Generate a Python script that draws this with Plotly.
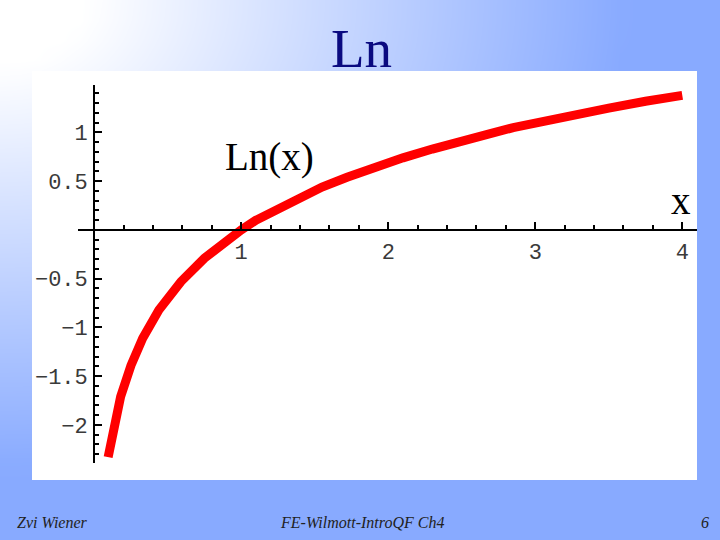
import numpy as np
import plotly.graph_objects as go

# ---- data ----
x_vals = [0.095, 0.13, 0.18, 0.25, 0.33, 0.44, 0.59, 0.75, 0.9, 1.0, 1.1, 1.25, 1.4, 1.55,
          1.72, 1.9, 2.1, 2.3, 2.5, 2.7, 2.85, 3.0, 3.25, 3.5, 3.75, 3.9, 4.0]
y_vals = [-2.33, -2.02, -1.71, -1.39, -1.11, -0.82, -0.53, -0.29, -0.11, 0.0, 0.10, 0.22, 0.34, 0.44,
          0.54, 0.64, 0.74, 0.83, 0.92, 0.99, 1.05, 1.10, 1.18, 1.25, 1.32, 1.36, 1.38]
x_ticks = [1, 2, 3, 4]
x_tick_text = ["1", "2", "3", "4"]
y_ticks = [-2, -1.5, -1, -0.5, 0.5, 1]
y_tick_text = ["\u22122", "\u22121.5", "\u22121", "\u22120.5", "0.5", "1"]

W, H = 720, 540
XR = [-0.11, 4.1]
YR = [-2.39, 1.49]
# pixel placement of the axes box
px_l, px_r = 78, 697
py_t, py_b = 84.7, 463

fig = go.Figure()

# background gradient (decorative) on a full-page axis
gx = np.linspace(0, W, 37)
gy = np.linspace(0, H, 28)
GX, GY = np.meshgrid(gx, gy)
r = np.sqrt((GX / W) ** 2 + (GY / H) ** 2)
t = np.clip((r - 0.12) / 0.75, 0, 1)
fig.add_trace(go.Heatmap(x=gx, y=gy, z=t, zmin=0, zmax=1, zsmooth="best",
                         colorscale=[[0, "#ffffff"], [1, "#88aaff"]], showscale=False,
                         hoverinfo="skip", xaxis="x", yaxis="y"))
# white panel
fig.add_trace(go.Scatter(x=[32, 697, 697, 32, 32], y=[71, 71, 480, 480, 71], mode="lines",
                         fill="toself", fillcolor="white", line=dict(width=0),
                         hoverinfo="skip", showlegend=False, xaxis="x", yaxis="y"))

# the curve
fig.add_trace(go.Scatter(x=x_vals, y=y_vals, mode="lines",
                         line=dict(color="#ff0000", width=9, shape="linear"),
                         showlegend=False, xaxis="x2", yaxis="y2"))

dom_x = [px_l / W, px_r / W]
dom_y = [(H - py_b) / H, (H - py_t) / H]
xpos = dom_y[0] + (0 - YR[0]) / (YR[1] - YR[0]) * (dom_y[1] - dom_y[0])
ypos = dom_x[0] + (0 - XR[0]) / (XR[1] - XR[0]) * (dom_x[1] - dom_x[0])

tickfont = dict(family="Liberation Mono", size=22, color="#3a3a3a")

fig.update_layout(
    width=W, height=H, margin=dict(l=0, r=0, t=0, b=0),
    paper_bgcolor="#88aaff", plot_bgcolor="rgba(0,0,0,0)", showlegend=False,
    xaxis=dict(domain=[0, 1], range=[0, W], visible=False, fixedrange=True),
    yaxis=dict(domain=[0, 1], range=[H, 0], visible=False, fixedrange=True),
    xaxis2=dict(domain=dom_x, range=XR, anchor="free", position=xpos,
                showline=True, linecolor="black", linewidth=2, showgrid=False, zeroline=False,
                tickvals=x_ticks, ticktext=x_tick_text, ticks="inside", ticklen=7, tickwidth=1.5,
                tickcolor="black", tickfont=tickfont, ticklabelstandoff=2,
                minor=dict(dtick=0.2, tick0=0, ticks="inside", ticklen=4, tickwidth=1.5,
                           tickcolor="black", showgrid=False)),
    yaxis2=dict(domain=dom_y, range=YR, anchor="free", position=ypos,
                showline=True, linecolor="black", linewidth=2, showgrid=False, zeroline=False,
                tickvals=y_ticks, ticktext=y_tick_text, ticks="inside", ticklen=7, tickwidth=1.5,
                tickcolor="black", tickfont=tickfont, ticklabelstandoff=1,
                minor=dict(dtick=0.1, tick0=0, ticks="inside", ticklen=4, tickwidth=1.5,
                           tickcolor="black", showgrid=False)),
)

serif = "Liberation Serif"
fig.add_annotation(text="Ln", x=361 / W, y=1 - 48 / H, xref="paper", yref="paper",
                   showarrow=False, font=dict(family=serif, size=55, color="#0a0a80"),
                   xanchor="center", yanchor="middle")
fig.add_annotation(text="Ln(x)", x=1.19, y=0.75, xref="x2", yref="y2", showarrow=False,
                   font=dict(family=serif, size=39, color="black"), xanchor="center", yanchor="middle")
fig.add_annotation(text="x", x=3.99, y=0.30, xref="x2", yref="y2", showarrow=False,
                   font=dict(family=serif, size=39, color="black"), xanchor="center", yanchor="middle")

foot = dict(family=serif, size=16, color="#222222")
fig.add_annotation(text="<i>Zvi Wiener</i>", x=15 / W, y=1 - 522 / H, xref="paper", yref="paper",
                   showarrow=False, font=foot, xanchor="left", yanchor="middle")
fig.add_annotation(text="<i>FE-Wilmott-IntroQF Ch4</i>", x=362 / W, y=1 - 522 / H, xref="paper",
                   yref="paper", showarrow=False, font=foot, xanchor="center", yanchor="middle")
fig.add_annotation(text="<i>6</i>", x=711 / W, y=1 - 522 / H, xref="paper", yref="paper",
                   showarrow=False, font=foot, xanchor="right", yanchor="middle")

fig.write_html("out.html", config={"displayModeBar": False},
               post_script="document.body.style.margin='0';")
